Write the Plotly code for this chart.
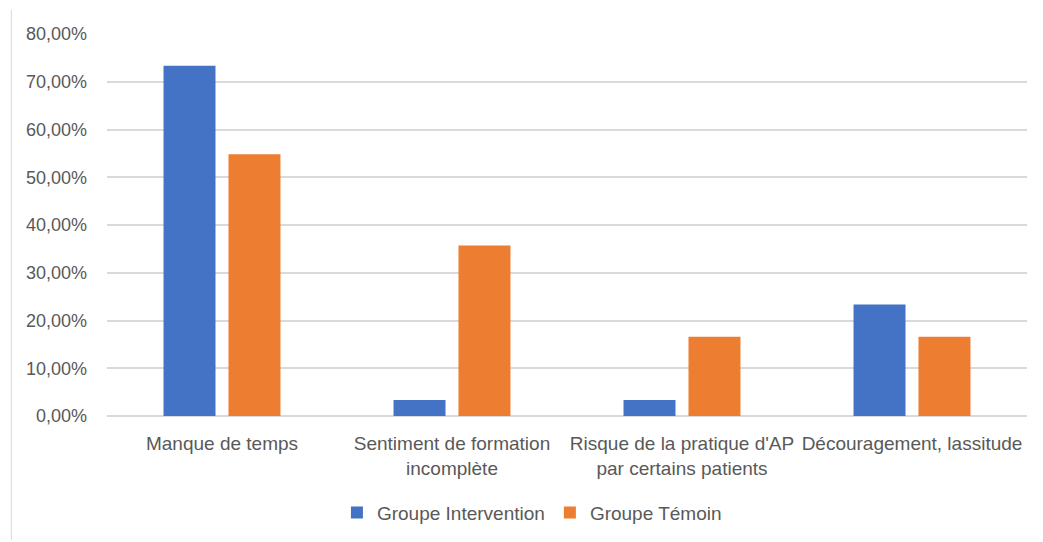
import plotly.graph_objects as go

# Obstacles reported, share of respondents per group
categories = [
    "Manque de temps",
    "Sentiment de formation<br>incomplète",
    "Risque de la pratique d'AP<br>par certains patients",
    "Découragement, lassitude",
]
groupe_intervention = [73.33, 3.33, 3.33, 23.33]
groupe_temoin = [54.8, 35.7, 16.6, 16.6]
y_ticks = [0, 10, 20, 30, 40, 50, 60, 70, 80]
y_tick_labels = ["%d,00%%" % v for v in y_ticks]

FONT = "Liberation Sans, Arial, sans-serif"
TEXT_COLOR = "#595959"

fig = go.Figure()
fig.add_trace(go.Bar(
    name="Groupe Intervention", x=categories, y=groupe_intervention,
    marker=dict(color="#4472c4", line=dict(width=0)),
))
fig.add_trace(go.Bar(
    name="Groupe Témoin", x=categories, y=groupe_temoin,
    marker=dict(color="#ed7d31", line=dict(width=0)),
))

fig.update_layout(
    width=1043, height=542,
    margin=dict(l=107, r=16, t=34, b=126, autoexpand=False),
    paper_bgcolor="white", plot_bgcolor="white",
    barmode="group", bargap=0.435, bargroupgap=0.2,
    font=dict(family=FONT, color=TEXT_COLOR, size=18),
    showlegend=True,
    legend=dict(
        orientation="h", xref="container", yref="container",
        x=0.51, xanchor="center", y=0.054, yanchor="middle",
        font=dict(size=19, color=TEXT_COLOR, family=FONT),
        itemwidth=30,
    ),
    xaxis=dict(
        showgrid=False, showline=False, ticks="", ticklabelstandoff=14,
        tickfont=dict(size=19, color=TEXT_COLOR, family=FONT),
    ),
    yaxis=dict(
        range=[0, 80], tickvals=y_ticks, ticktext=y_tick_labels,
        showgrid=True, gridcolor="#d9d9d9", gridwidth=1.5,
        zeroline=True, zerolinecolor="#d9d9d9", zerolinewidth=1.5,
        showline=False, ticks="", ticklabelstandoff=19,
        tickfont=dict(size=18, color=TEXT_COLOR, family=FONT),
    ),
    shapes=[dict(
        type="line", xref="paper", yref="paper",
        x0=-0.104, x1=-0.104, y0=-0.325, y1=1.063,
        line=dict(color="#d9d9d9", width=1),
    )],
)

fig.write_html("out.html")
